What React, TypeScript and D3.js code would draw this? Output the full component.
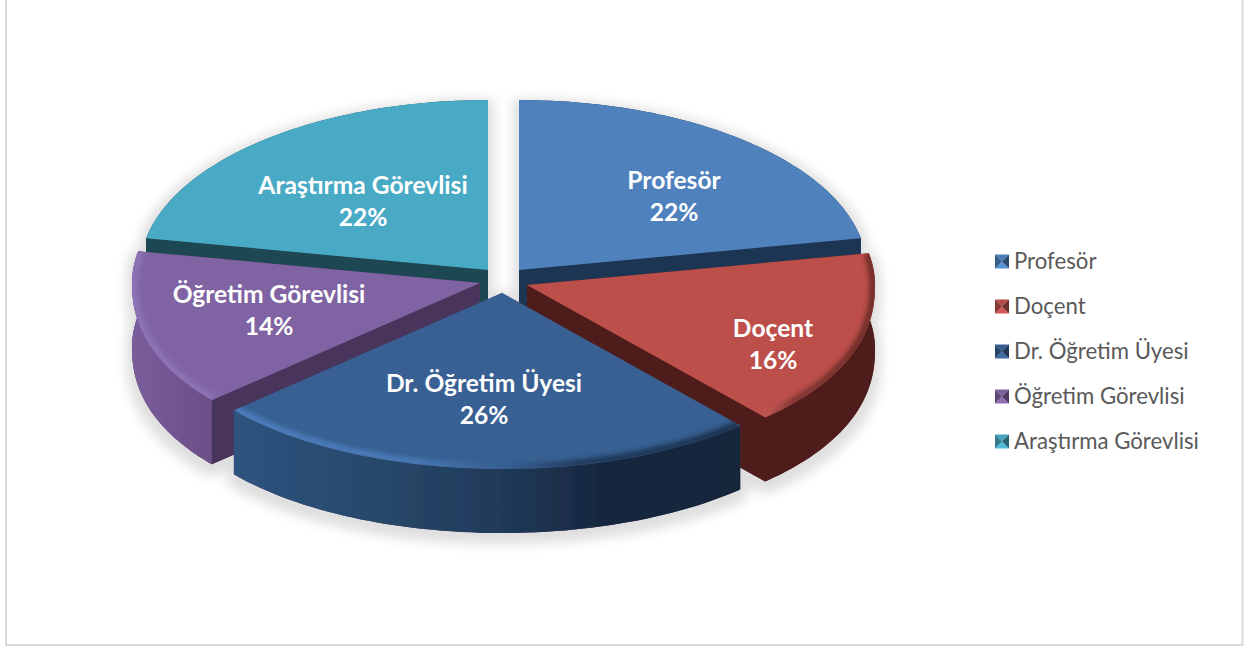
import React from "react";
import * as d3 from "d3";

const categories = ["Profesör", "Doçent", "Dr. Öğretim Üyesi", "Öğretim Görevlisi", "Araştırma Görevlisi"];
const shares = [22, 16, 26, 14, 22];

const topColors = ["#4f81bd", "#bd4f4c", "#376092", "#8064a2", "#4aaac5"];
const cutColors = ["#1f3552", "#4f1f1d", "#48365c", "#48365c", "#1f4652"];
const apexX = [519, 527, 502, 480, 488];
const apexY = [270, 285, 293, 283, 270];
const labelX = [674, 773, 484, 269, 363];
const labelY = [180, 328, 383, 294, 185];
const drawOrder = [4, 0, 3, 1, 2];
const legendRows = [261, 306, 351, 396, 441];

const RX = 348;
const RY_TOP = 170;
const RY_BOTTOM = 176;
const BULGE = 0.9;
const DEPTH = 64;

const arcs = d3.pie<number>().sort(null).startAngle(0).endAngle(2 * Math.PI)(shares);

function project(i: number, a: number, dy = 0, inset = 0): [number, number] {
  const c = Math.cos(a);
  const yOff = c > 0 ? (RY_TOP - inset) * c : -(RY_BOTTOM - inset) * Math.pow(-c, BULGE);
  return [apexX[i] + (RX - inset) * Math.sin(a), apexY[i] - yOff + dy];
}
function arcPts(i: number, dy = 0, inset = 0): [number, number][] {
  const { startAngle: a0, endAngle: a1 } = arcs[i];
  return d3.range(61).map((t) => project(i, a0 + ((a1 - a0) * t) / 60, dy, inset));
}
const line = d3.line();
const sector = (i: number, dy = 0) => line([[apexX[i], apexY[i] + dy], ...arcPts(i, dy)]) + "Z";
const wall = (i: number) => line([...arcPts(i), ...arcPts(i, DEPTH).reverse()]) + "Z";
const cut = (i: number, a: number) => {
  const e = project(i, a);
  return line([[apexX[i], apexY[i]], e, [e[0], e[1] + DEPTH], [apexX[i], apexY[i] + DEPTH]]) + "Z";
};

function Grad({ id, x1, x2, stops }: { id: string; x1: number; x2: number; stops: [number, string][] }) {
  return (
    <linearGradient id={id} gradientUnits="userSpaceOnUse" x1={x1} y1={0} x2={x2} y2={0}>
      {stops.map(([o, c], k) => (
        <stop key={k} offset={o} stopColor={c} />
      ))}
    </linearGradient>
  );
}

const wallFill = ["#1f3552", "#4f1f1d", "url(#wallDr)", "url(#wallOg)", "#1f4652"];
const rimStroke = [null, "url(#rimDo)", "url(#rimDr)", "#8f74b8", null];

export default function App() {
  return (
    <svg width={1244} height={648} style={{ position: "fixed", left: 0, top: 0, background: "#fff" }}>
      <defs>
        <Grad id="wallDr" x1={232} x2={742} stops={[[0, "#2e5380"], [0.3, "#274869"], [0.55, "#1f3857"], [0.72, "#17283f"], [1, "#15253b"]]} />
        <Grad id="wallOg" x1={130} x2={215} stops={[[0, "#7a5d9b"], [1, "#6b4e87"]]} />
        <Grad id="rimDr" x1={232} x2={742} stops={[[0, "#4f80bf"], [0.35, "#4a7cba"], [0.55, "#345c8c"], [0.68, "#203757"], [1, "#1a2d47"]]} />
        <Grad id="rimDo" x1={765} x2={860} stops={[[0, "#c25a56"], [0.3, "#7a3431"], [1, "#6a2926"]]} />
        <filter id="pieShadow" filterUnits="userSpaceOnUse" x={0} y={0} width={1244} height={648}>
          <feMorphology in="SourceAlpha" operator="dilate" radius={6} />
          <feGaussianBlur stdDeviation={6} />
          <feOffset dy={5} />
          <feComponentTransfer>
            <feFuncA type="linear" slope={0.13} />
          </feComponentTransfer>
          <feMerge>
            <feMergeNode />
            <feMergeNode in="SourceGraphic" />
          </feMerge>
        </filter>
        <filter id="soft" filterUnits="userSpaceOnUse" x={0} y={0} width={1244} height={648}>
          <feGaussianBlur stdDeviation={2.6} />
        </filter>
        {arcs.map((_, i) => (
          <clipPath key={i} id={`top${i}`}>
            <path d={sector(i)} />
          </clipPath>
        ))}
      </defs>

      <path d="M6,0V645H1242.5V0" fill="none" stroke="#d9d9d9" strokeWidth={2} />

      <g filter="url(#pieShadow)">
        {drawOrder.map((i) => (
          <g key={i}>
            <path d={sector(i, DEPTH)} fill={cutColors[i]} />
            <path d={cut(i, arcs[i].endAngle)} fill={cutColors[i]} />
            <path d={cut(i, arcs[i].startAngle)} fill={cutColors[i]} />
            <path d={wall(i)} fill={wallFill[i]} />
            <path d={sector(i)} fill={topColors[i]} />
            {rimStroke[i] && (
              <g clipPath={`url(#top${i})`}>
                <path d={line(arcPts(i, 0, 2)) ?? ""} fill="none" stroke={rimStroke[i]!} strokeWidth={7} filter="url(#soft)" />
              </g>
            )}
          </g>
        ))}
      </g>

      <g fontFamily="Lato, Carlito, sans-serif" fontWeight={700} fontSize={24.6} fill="#fff" textAnchor="middle">
        {categories.map((c, i) => (
          <g key={c}>
            <text x={labelX[i]} y={labelY[i]} dy="0.35em">{c}</text>
            <text x={labelX[i]} y={labelY[i] + 32} dy="0.35em">{shares[i]}%</text>
          </g>
        ))}
      </g>

      <g fontFamily="Lato, Carlito, sans-serif" fontSize={22.2} fill="#595959">
        {categories.map((c, i) => {
          const y = legendRows[i];
          const [l, r, t, b] = [995, 1009, y - 6.5, y + 7.5];
          const mx = 1002, my = y + 0.5;
          const col = d3.color(topColors[i])!;
          return (
            <g key={c}>
              <path d={`M${l},${t}L${r},${t}L${mx},${my}Z`} fill={col.darker(0.1).formatHex()} />
              <path d={`M${l},${b}L${r},${b}L${mx},${my}Z`} fill={col.brighter(0.3).formatHex()} />
              <path d={`M${l},${t}L${l},${b}L${mx},${my}Z`} fill={col.darker(0.9).formatHex()} />
              <path d={`M${r},${t}L${r},${b}L${mx},${my}Z`} fill={col.darker(1.5).formatHex()} />
              <text x={1014} y={y} dy="0.35em">{c}</text>
            </g>
          );
        })}
      </g>
    </svg>
  );
}
